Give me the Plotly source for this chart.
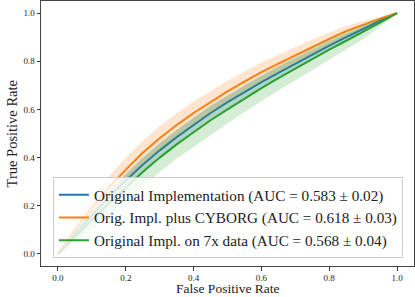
import plotly.graph_objects as go

# False positive rate grid
fpr = [0.0, 0.05, 0.1, 0.15, 0.2, 0.25, 0.3, 0.35, 0.4, 0.45, 0.5,
       0.55, 0.6, 0.65, 0.7, 0.75, 0.8, 0.85, 0.9, 0.95, 1.0]

# Mean TPR per model
tpr_orig = [0.0, 0.08, 0.16, 0.235, 0.305, 0.37, 0.43, 0.485, 0.535, 0.585, 0.63,
            0.672, 0.713, 0.752, 0.79, 0.828, 0.865, 0.9, 0.935, 0.968, 1.0]
tpr_cyborg = [0.0, 0.10, 0.19, 0.275, 0.35, 0.42, 0.48, 0.535, 0.585, 0.63, 0.675,
              0.715, 0.755, 0.79, 0.825, 0.86, 0.893, 0.925, 0.952, 0.977, 1.0]
tpr_7x = [0.0, 0.07, 0.14, 0.21, 0.275, 0.34, 0.40, 0.455, 0.505, 0.555, 0.60,
          0.645, 0.688, 0.73, 0.77, 0.81, 0.848, 0.885, 0.922, 0.96, 1.0]

# Std of TPR per model
std_orig = [0.0, 0.015, 0.022, 0.026, 0.028, 0.03, 0.03, 0.03, 0.03, 0.029, 0.028,
            0.027, 0.026, 0.024, 0.022, 0.02, 0.017, 0.014, 0.01, 0.005, 0.0]
std_cyborg = [0.0, 0.025, 0.04, 0.047, 0.05, 0.05, 0.05, 0.05, 0.048, 0.046, 0.044,
              0.042, 0.04, 0.037, 0.034, 0.03, 0.026, 0.021, 0.015, 0.008, 0.0]
std_7x = [0.0, 0.025, 0.04, 0.05, 0.055, 0.058, 0.06, 0.06, 0.06, 0.06, 0.058,
          0.056, 0.054, 0.052, 0.05, 0.047, 0.044, 0.038, 0.03, 0.017, 0.0]

labels = [
    "Original Implementation (AUC = 0.583 ± 0.02)",
    "Orig. Impl. plus CYBORG (AUC = 0.618 ± 0.03)",
    "Original Impl. on 7x data (AUC = 0.568 ± 0.04)",
]
colors = ["#1f77b4", "#ff7f0e", "#2ca02c"]
fills = ["rgba(31,119,180,0.2)", "rgba(255,127,14,0.2)", "rgba(44,160,44,0.2)"]

FONT = "Liberation Serif"

fig = go.Figure()
for mean, std, lab, col, fc in zip([tpr_orig, tpr_cyborg, tpr_7x],
                                   [std_orig, std_cyborg, std_7x],
                                   labels, colors, fills):
    upper = [min(m + s, 1.0) for m, s in zip(mean, std)]
    lower = [max(m - s, 0.0) for m, s in zip(mean, std)]
    fig.add_trace(go.Scatter(x=fpr, y=mean, mode="lines", name=lab,
                             line=dict(color=col, width=2)))
    fig.add_trace(go.Scatter(x=fpr, y=lower, mode="lines", showlegend=False,
                             line=dict(width=0), hoverinfo="skip"))
    fig.add_trace(go.Scatter(x=fpr, y=upper, mode="lines", showlegend=False,
                             line=dict(width=0), fill="tonexty", fillcolor=fc,
                             hoverinfo="skip"))

axis_common = dict(
    range=[-0.05, 1.05],
    tickvals=[0, 0.2, 0.4, 0.6, 0.8, 1.0],
    tickformat=".1f",
    ticks="outside", ticklen=3.5, tickwidth=0.8, tickcolor="#333",
    showline=True, mirror=True, linecolor="#444", linewidth=1,
    showgrid=False, zeroline=False,
    tickfont=dict(family=FONT, size=9, color="#222"),
)

fig.update_layout(
    width=415, height=297,
    margin=dict(l=41, r=1, t=1, b=31),
    plot_bgcolor="white", paper_bgcolor="white",
    xaxis=dict(axis_common, ticklabelstandoff=0),
    yaxis=axis_common,
    showlegend=True,
    legend=dict(
        x=0.032, xanchor="left", y=0.029, yanchor="bottom",
        traceorder="normal",
        bgcolor="rgba(255,255,255,0.8)", bordercolor="#cccccc", borderwidth=1,
        font=dict(family=FONT, size=15.2, color="#222"),
        itemwidth=30,
    ),
    annotations=[
        dict(text="False Positive Rate", xref="paper", yref="paper",
             x=0.5, y=-0.1165, xanchor="center", yanchor="bottom", showarrow=False,
             borderpad=0, font=dict(family=FONT, size=13.5, color="#222")),
        dict(text="True Positive Rate", xref="paper", yref="paper",
             x=-0.078, y=0.5, xanchor="center", yanchor="middle", showarrow=False,
             textangle=-90, font=dict(family=FONT, size=14.5, color="#222")),
    ],
)

fig.write_html("out.html",
               config={"displayModeBar": False},
               post_script="document.body.style.margin='0';document.body.style.overflow='hidden';")
